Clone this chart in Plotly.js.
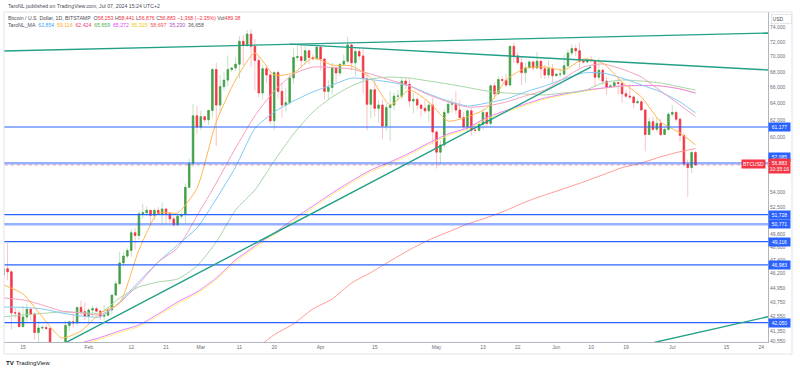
<!DOCTYPE html>
<html><head><meta charset="utf-8">
<script src="https://cdn.plot.ly/plotly-3.0.1.min.js"></script>
<style>html,body{margin:0;padding:0;background:#fff;}#chart{width:800px;height:370px;}</style>
</head><body><div id="chart"></div>
<script>
// ---------- DATA (BTC/USD daily, Bitstamp, 2024-01-10 .. 2024-07-07) ----------
const firstDay = '2024-01-10';
const opens = [
46100,46630,46350,42850,42840,41730,42510,43150,42740,41270,41620,41660,41580,39530,39850,40080,39930,41820,42120,42030,43300,42940,
42580,43080,43190,42990,42580,42660,43090,44330,45300,47150,47770,48290,49960,49700,51800,51910,52150,51660,52140,51780,52280,51840,51300,50730,51570,51730,54500,57050,62500,
61170,62400,62030,63150,68300,63800,66100,66930,68300,68500,69000,72100,71500,73100,71400,69500,65300,68400,67600,61900,67900,65500,63800,64100,67200,69900,70000,69500,70800,69900,69700,
71300,69700,65500,66000,68500,67850,69000,69400,71600,69200,70700,70100,67100,63900,65700,63400,63800,61300,63500,63800,64900,64900,66800,66400,64300,64500,63800,63400,63100,63800,
60600,58300,59100,62900,63900,64000,63200,62300,61200,63100,60800,60800,61500,62900,61600,66200,65200,67000,66900,66300,71400,70100,69200,67900,68500,69300,68500,69400,68400,67600,68400,
67500,67700,67700,68800,70500,71100,70800,69400,69300,69600,69500,67300,68200,66800,66000,66200,66600,66500,65200,64900,64800,64100,64200,63200,60300,61800,60900,61600,60300,60900,
62700,62900,62100,60200,57000,56600,58253];
const highs = [
47700,48970,46500,43250,43070,43400,43570,43200,42930,42180,41850,41870,41670,40130,40550,40280,42200,42200,42800,43310,43850,43720,
43250,43480,43370,43100,43500,43380,44370,45580,48190,48170,48560,50300,50380,52040,52820,52570,52200,52360,52490,52970,52380,52000,51550,51700,51960,54910,57570,63900,63680,
63120,62430,63220,68500,69200,67600,67950,70150,68600,69900,72800,72900,73650,73800,72400,70000,68900,68900,68100,68100,68200,66600,65950,67600,71100,71500,71700,71500,70900,70300,71350,
71350,69700,66900,69200,68700,69000,70300,72750,71750,71100,71200,71300,67900,65800,66800,64400,64500,64000,65500,65400,65700,67200,67200,67100,65300,64800,63900,64400,64200,64700,
60800,59600,63300,64500,64600,65500,64400,62950,63300,63450,61500,61800,63400,63100,66400,66700,67400,67400,67700,71500,71950,70600,70100,69200,69500,69500,70600,69500,68900,69500,69000,
67850,68400,70200,71000,71700,71600,71950,69500,69900,70100,69500,69900,68400,67300,66400,66900,67200,66500,65700,66400,65000,64500,64500,63350,62300,62400,62300,62200,61200,62900,
63800,63200,62300,60500,57500,58450,58441];
const lows = [
44300,45600,41500,42450,41720,41700,42050,42200,40700,40280,41450,41500,39450,38500,39500,39550,39820,41400,41650,41800,42700,42300,
41880,42550,42900,42260,42260,42570,42780,44250,45250,46800,47610,47720,48360,49280,51330,51600,50670,51200,51700,50700,50850,50950,50560,50600,51280,50900,54450,56700,60400,
60800,61700,61400,62330,59000,62850,65600,66150,68000,68100,67100,68800,71300,68600,65600,64800,64500,66550,61500,60800,64600,62250,63000,63800,66400,69400,68500,68900,69000,69600,69600,
68200,64500,64500,65100,66600,67450,68900,69100,68200,67500,69600,65250,60800,62200,62400,61700,59800,60800,59600,63200,64300,64500,65800,63600,62800,63300,62400,62800,61800,59200,
56500,56900,58800,62600,62900,62700,62200,60900,60700,60200,60500,60600,60800,61200,61300,64600,65100,66600,66000,66100,69200,68900,66300,66600,68500,68200,68300,67200,67100,67150,66600,
67400,67300,67600,68550,70200,70100,68500,69200,69200,69200,66100,66900,66300,65100,65900,66000,65100,64100,64700,64500,63400,63900,63200,58400,60300,60700,60600,60100,60300,60700,
62400,61800,59500,56800,53500,56000,56876];
const closes = [
46630,46350,42850,42840,41730,42510,43150,42740,41270,41620,41660,41580,39530,39850,40080,39930,41820,42120,42030,43300,42940,42580,
43080,43190,42990,42580,42660,43090,44330,45300,47150,47770,48290,49960,49700,51800,51910,52150,51660,52140,51780,52280,51840,51300,50730,51570,51730,54500,57050,62500,61170,
62400,62030,63150,68300,63800,66100,66930,68300,68500,69000,72100,71500,73100,71400,69500,65300,68400,67600,61900,67900,65500,63800,64100,67200,69900,70000,69500,70800,69900,69700,71300,
69700,65500,66000,68500,67850,69000,69400,71600,69200,70700,70100,67100,63900,65700,63400,63800,61300,63500,63800,64900,64900,66800,66400,64300,64500,63800,63400,63100,63800,60600,
58300,59100,62900,63900,64000,63200,62300,61200,63100,60800,60800,61500,62900,61600,66200,65200,67000,66900,66300,71400,70100,69200,67900,68500,69300,68500,69400,68400,67600,68400,67500,
67700,67700,68800,70500,71100,70800,69400,69300,69600,69500,67300,68200,66800,66000,66200,66600,66500,65200,64900,64800,64100,64200,63200,60300,61800,60900,61600,60300,60900,62700,
62900,62100,60200,57000,56600,58250,56883];

// moving averages at sample dates
const maDates = ['2024-01-10','2024-01-15','2024-01-20','2024-01-25','2024-01-30','2024-02-04','2024-02-09','2024-02-14','2024-02-19','2024-02-24','2024-02-29',
'2024-03-05','2024-03-10','2024-03-15','2024-03-20','2024-03-25','2024-03-30','2024-04-04','2024-04-09','2024-04-14','2024-04-19','2024-04-24','2024-04-29',
'2024-05-04','2024-05-09','2024-05-14','2024-05-19','2024-05-24','2024-05-29','2024-06-03','2024-06-08','2024-06-13','2024-06-18','2024-06-23','2024-06-28','2024-07-03','2024-07-07'];
const maOrange = [45200,44430,42510,40840,41380,42840,43670,48335,51900,51900,54400,61770,66940,70500,67590,67850,69830,68890,68760,67190,63800,65670,64180,61880,62380,63440,66940,68490,68630,68240,69690,69160,66680,64800,61770,60480,59116];
const maBlue   = [43330,43300,43170,42840,42600,42520,43750,45500,47240,48800,50410,53300,56660,61000,62960,64300,65430,66310,67190,67000,66670,66180,65170,64300,63690,64050,64550,65430,66180,67070,67850,67850,67190,66310,65430,64180,62854];
const maPink   = [44090,43920,43500,43000,42840,42680,43670,45300,47240,48520,51590,54950,58760,62500,65560,67720,68630,68560,68360,67720,66940,66180,65050,64180,63560,63690,64180,64930,65670,67190,68630,69030,68360,67320,65550,63810,62424];
const maGreen  = [42520,42680,42800,42920,42880,42840,44090,45030,45460,45720,46870,49080,52180,54220,57320,60370,62960,64800,66180,67070,67320,67190,66810,66430,65990,65550,65300,65170,65050,65300,65550,66560,66940,66810,66560,66060,65659];
const maMagenta= [null,null,null,null,40450,40870,41390,41870,42760,43750,44600,45800,47420,48700,49930,51290,52590,53900,55160,56340,57210,58200,59330,60370,61060,62300,63150,63940,64680,65170,65610,65920,66180,66250,66180,65800,65272];
const maYellow = [null,null,null,null,40350,40750,41260,41740,42620,43600,44450,45650,47260,48540,49760,51120,52410,53720,54980,56160,57030,58020,59150,60190,60880,62120,62970,63770,64530,65050,65520,65870,66150,66240,66200,65840,65315];
const maSalmon = [null,null,null,null,null,null,null,null,null,null,null,null,null,39930,41090,41950,43170,44000,45370,46290,47330,48350,49270,50030,50800,51420,52140,52990,53700,54360,55060,55820,56590,57100,57780,58350,58697];

// horizontal levels and trend lines
const levels = [61177, 57085, 51728, 50771, 49116, 46983, 42050];
const trendA = {x:['2024-01-10','2024-07-26'], y:[70760, 73250]};
const trendB = {x:['2024-03-24','2024-07-26'], y:[71700, 68240]};
const trendC = {x:['2024-01-24','2024-06-10'], y:[40150, 68640]};
const trendD = {x:['2024-06-20','2024-07-26'], y:[40060, 42550]};
const lastPrice = 56883;

// axis ticks
const xTickVals = ['2024-01-15','2024-02-01','2024-02-12','2024-02-21','2024-03-01','2024-03-11','2024-03-20','2024-04-01','2024-04-15','2024-05-01','2024-05-13','2024-05-22','2024-06-01','2024-06-10','2024-06-19','2024-07-01','2024-07-15','2024-07-24'];
const xTickText = ['15','Feb','12','21','Mar','11','20','Apr','15','May','13','22','Jun','10','19','Jul','15','24'];
const yTickVals = [40550,41350,42550,43750,44950,46200,47400,48600,49800,52500,54000,60000,62000,64000,66000,68000,70000,72000,74000];

const legendVals = ['62,854','59,116','62,424','65,659','65,272','65,315','58,697','35,230','36,658'];

// ---------- BUILD ----------
const dates = [];
(function(){ const t0 = Date.parse(firstDay+'T00:00:00Z'); for(let i=0;i<opens.length;i++){ dates.push(new Date(t0+i*86400000).toISOString().slice(0,10)); } })();
const bodyHigh = opens.map((o,i)=>Math.max(o,closes[i]));
const bodyLow  = opens.map((o,i)=>Math.min(o,closes[i]));

const GREEN='#43a047', RED='#f23645';
const traces = [];
traces.push({type:'candlestick', x:dates, open:opens, high:highs, low:lows, close:closes, hoverinfo:'skip', whiskerwidth:0,
  increasing:{line:{color:'rgba(76,175,80,0.35)', width:1}, fillcolor:'rgba(76,175,80,0.35)'},
  decreasing:{line:{color:'rgba(242,54,69,0.30)', width:1}, fillcolor:'rgba(242,54,69,0.30)'}});
traces.push({type:'candlestick', x:dates, open:opens, high:bodyHigh, low:bodyLow, close:closes, hoverinfo:'skip', whiskerwidth:0,
  increasing:{line:{color:GREEN, width:0.6}, fillcolor:GREEN},
  decreasing:{line:{color:RED, width:0.6}, fillcolor:RED}});

function ma(y,color){ return {type:'scatter', mode:'lines', x:maDates, y:y, line:{color:color, width:1, shape:'spline', smoothing:0.6}, hoverinfo:'skip', connectgaps:false}; }
traces.push(ma(maSalmon,'#ff9a94'));
traces.push(ma(maYellow,'#fff176'));
traces.push(ma(maMagenta,'#ea80fc'));
traces.push(ma(maGreen,'#a5d6a7'));
traces.push(ma(maBlue,'#81c8f5'));
traces.push(ma(maPink,'#f4a0c0'));
traces.push(ma(maOrange,'#ffb74d'));

// price line
traces.push({type:'scatter', mode:'lines', x:['2024-01-01','2024-08-10'], y:[lastPrice,lastPrice], line:{color:'rgba(242,54,69,0.45)', width:1, dash:'dot'}, hoverinfo:'skip'});
// levels
levels.forEach((v,i)=>{
  const thick = (v===57085 || v===50771);
  traces.push({type:'scatter', mode:'lines', x:['2024-01-01','2024-08-10'], y:[v,v], hoverinfo:'skip',
    line:{color: thick ? 'rgba(41,98,255,0.5)' : '#2962ff', width: thick ? 2.5 : 1.2}});
});
// trend lines
[trendA,trendB,trendC,trendD].forEach(t=>{
  traces.push({type:'scatter', mode:'lines', x:t.x, y:t.y, hoverinfo:'skip', line:{color:'#22a088', width:1.4}});
});

const FONT = '"Liberation Sans", Arial, sans-serif';
const annotations = [];
const px = x => (x-4)/764, py = y => (342-y)/330;
annotations.push({xref:'paper', yref:'paper', x:px(6), y:py(6), xanchor:'left', yanchor:'middle', showarrow:false,
  text:'TaroNL published on TradingView.com, Jul 07, 2024 15:24 UTC+2', font:{family:FONT, size:5.2, color:'#4a4d57'}});
const r = s => '<span style="color:#f23645">'+s+'</span>';
annotations.push({xref:'paper', yref:'paper', x:px(6), y:py(18), xanchor:'left', yanchor:'middle', showarrow:false,
  text:'Bitcoin / U.S. Dollar, 1D, BITSTAMP\u00a0\u00a0O'+r('58,253')+'\u00a0H'+r('58,441')+'\u00a0L'+r('56,876')+'\u00a0C'+r('56,883')+'\u00a0'+r('\u22121,368 (\u22122.35%)')+'\u00a0Vol'+r('489.38'),
  font:{family:FONT, size:5.2, color:'#4a4d57'}});
const legColors = ['#42a5f5','#ffa726','#ec407a','#4caf50','#e040fb','#f5c800','#ef5350','#ab47bc','#555555'];
annotations.push({xref:'paper', yref:'paper', x:px(6), y:py(25.5), xanchor:'left', yanchor:'middle', showarrow:false,
  text:'TaroNL_MA\u00a0\u00a0'+legendVals.map((v,i)=>'<span style="color:'+legColors[i]+'">'+v+'</span>').join('\u00a0\u00a0'),
  font:{family:FONT, size:5.2, color:'#4a4d57'}});
// level labels
levels.forEach(v=>{
  annotations.push({xref:'paper', yref:'y', x:1, y:Math.log10(v), xanchor:'left', yanchor:'middle', showarrow:false,
    yshift: v===57085 ? 6 : 0,
    text:v.toLocaleString('en-US'), font:{family:FONT, size:5, color:'#ffffff'}, bgcolor:'#2962ff', borderpad:1, width:19, height:6});
});
annotations.push({xref:'paper', yref:'y', x:1, y:Math.log10(lastPrice), xanchor:'left', yanchor:'middle', showarrow:false, yshift:-1,
  text:lastPrice.toLocaleString('en-US')+'<br>10:35:16', font:{family:FONT, size:5, color:'#ffffff'}, bgcolor:RED, borderpad:1, width:19, height:12});
annotations.push({xref:'paper', yref:'y', x:0.9975, y:Math.log10(lastPrice), xanchor:'right', yanchor:'middle', showarrow:false, yshift:0.5,
  text:'BTCUSD', font:{family:FONT, size:5, color:'#ffffff'}, bgcolor:RED, borderpad:1, width:21, height:6});
annotations.push({xref:'paper', yref:'paper', x:px(771), y:py(19.5), xanchor:'left', yanchor:'middle', showarrow:false,
  text:'USD', font:{family:FONT, size:5, color:'#4a4d57'}, bgcolor:'#ffffff', bordercolor:'#d1d4dc', borderwidth:0.6, borderpad:1, width:18, height:7, align:'left'});
annotations.push({xref:'paper', yref:'paper', x:px(4), y:py(362), xanchor:'left', yanchor:'middle', showarrow:false,
  text:'<b>TV</b>\u00a0TradingView', font:{family:FONT, size:6.2, color:'#131722'}});

const layout = {
  width:800, height:370, margin:{l:4, r:32, t:12, b:28, pad:0},
  paper_bgcolor:'#ffffff', plot_bgcolor:'#ffffff', showlegend:false,
  font:{family:FONT, size:5, color:'#787b86'},
  boxgap:0.42,
  xaxis:{type:'date', range:['2024-01-10 02:00','2024-07-25 18:15'], rangeslider:{visible:false}, showgrid:false, zeroline:false,
    showline:true, linecolor:'#b2b5be', linewidth:1, ticks:'', tickmode:'array', tickvals:xTickVals, ticktext:xTickText,
    tickfont:{family:FONT, size:5, color:'#6a6d78'}, fixedrange:true},
  yaxis:{type:'log', side:'right', range:[Math.log10(40521), Math.log10(76258)], showgrid:false, zeroline:false,
    showline:true, linecolor:'#b2b5be', linewidth:1, ticks:'', tickmode:'array', tickvals:yTickVals,
    ticktext:yTickVals.map(v=>v.toLocaleString('en-US')), tickfont:{family:FONT, size:5, color:'#6a6d78'}, fixedrange:true},
  shapes:[{type:'rect', xref:'paper', yref:'paper', x0:0, x1:(792-4)/764, y0:(342-354)/330, y1:1, line:{color:'#e0e3eb', width:1}}],
  annotations:annotations
};
Plotly.newPlot('chart', traces, layout, {displayModeBar:false, staticPlot:true});
</script></body></html>
